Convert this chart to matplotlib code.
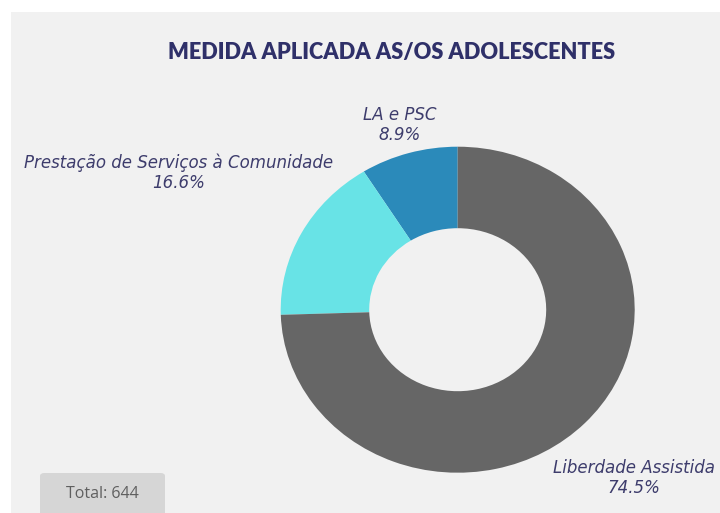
import numpy as np
import matplotlib.pyplot as plt
from matplotlib.patches import Rectangle, FancyBboxPatch

# dados
categorias = ['LA e PSC', 'Prestação de Serviços à Comunidade', 'Liberdade Assistida']
percentuais = [8.9, 16.6, 74.5]
cores = ['#2b8aba', '#68e3e6', '#666666']
total = 644
titulo = 'MEDIDA APLICADA AS/OS ADOLESCENTES'

# distancia e desvio angular dos rotulos (ajustados a olho)
dist_rotulo = [1.18, 1.79, 1.435]
desvio_rotulo = [0, 0, -1.9]

W, H = 720, 513
fig = plt.figure(figsize=(W / 100, H / 100), dpi=100)
fig.patch.set_facecolor('white')

# painel cinza claro
fig.patches.append(Rectangle((11 / W, 0), 1 - 11 / W, 1 - 12 / H,
                             transform=fig.transFigure, facecolor='#f1f1f1',
                             edgecolor='none', zorder=-10))

# rosca (levemente achatada como no original)
cx, cy, rx, ry = 457.7, 309.7, 177, 163
ax = fig.add_axes([(cx - rx) / W, (H - cy - ry) / H, 2 * rx / W, 2 * ry / H])
ax.patch.set_alpha(0)
wedges, _ = ax.pie(percentuais, colors=cores, startangle=90, counterclock=True,
                   radius=1, wedgeprops=dict(width=0.5, edgecolor='none'))
ax.set_aspect('auto')
ax.set_xlim(-1, 1)
ax.set_ylim(-1, 1)
ax.axis('off')

for w, cat, p, d, da in zip(wedges, categorias, percentuais, dist_rotulo, desvio_rotulo):
    ang = np.deg2rad((w.theta1 + w.theta2) / 2 + da)
    ax.text(d * np.cos(ang), d * np.sin(ang), cat + '\n' + f'{p:.1f}%',
            ha='center', va='center', fontsize=12, style='italic',
            color='#3d3c6c', family='DejaVu Sans', linespacing=1.15,
            clip_on=False)

fig.text(392 / W, 1 - 52 / H, titulo, ha='center', va='center',
         fontsize=15.7, fontweight='heavy', color='#2f3069', family='Lato')

# caixa do total
fig.patches.append(FancyBboxPatch((40 / W, -0.05), 125 / W, (513 - 473) / H + 0.05,
                                  boxstyle='round,pad=0,rounding_size=0.006',
                                  transform=fig.transFigure, facecolor='#d6d6d6',
                                  edgecolor='none', zorder=1))
fig.text(102 / W, 1 - 494 / H, f'Total: {total}', ha='center', va='center',
         fontsize=11.5, color='#5f5f5f', family='Open Sans', fontweight='medium')

fig.savefig('out.png', dpi=100)
